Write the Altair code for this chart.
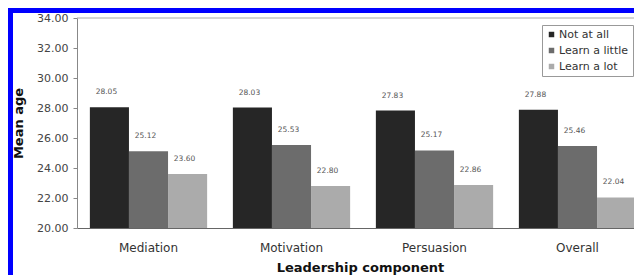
import altair as alt
import pandas as pd

categories = ["Mediation", "Motivation", "Persuasion", "Overall"]
series = ["Not at all", "Learn a little", "Learn a lot"]
not_at_all = [28.05, 28.03, 27.83, 27.88]
learn_little = [25.12, 25.53, 25.17, 25.46]
learn_lot = [23.60, 22.80, 22.86, 22.04]
y_ticks = [20, 22, 24, 26, 28, 30, 32, 34]
colors = ["#262626", "#6c6c6c", "#ababab"]

rows = []
for i, c in enumerate(categories):
    for s, vals in zip(series, [not_at_all, learn_little, learn_lot]):
        rows.append({"component": c, "level": s, "age": vals[i], "label": f"{vals[i]:.2f}"})
df = pd.DataFrame(rows)

W, H = 557, 210
PAD = {"left": 69, "top": 10, "right": 0, "bottom": 47}

x = alt.X(
    "component:N",
    sort=categories,
    scale=alt.Scale(range=[0, 572], paddingInner=0.18, paddingOuter=0.09),
    axis=alt.Axis(
        title="Leadership component",
        labelAngle=0,
        ticks=False,
        labelPadding=14,
        labelFontSize=12,
        labelColor="#333",
        domainColor="#666",
        titleFontSize=13,
        titleFontWeight="bold",
        titleColor="#111",
        titleX=283,
        titleY=39,
        titleBaseline="middle",
        titleAlign="center",
    ),
)
xo = alt.XOffset("level:N", sort=series, scale=alt.Scale(paddingInner=0, paddingOuter=0))
y = alt.Y(
    "age:Q",
    scale=alt.Scale(domain=[20, 34], nice=False, zero=False),
    axis=alt.Axis(
        title="Mean age",
        values=y_ticks,
        format=".2f",
        grid=False,
        tickSize=4,
        tickColor="#888",
        domainColor="#888",
        labelPadding=5,
        labelFontSize=11,
        labelColor="#444",
        titleFontSize=13,
        titleFontWeight="bold",
        titleColor="#111",
        titleAngle=-90,
        titleX=-59,
        titleY=105,
        titleAlign="center",
        titleBaseline="middle",
    ),
)
color = alt.Color(
    "level:N",
    sort=series,
    scale=alt.Scale(domain=series, range=colors),
    legend=alt.Legend(
        title=None,
        orient="none",
        legendX=465,
        legendY=7,
        symbolType="square",
        symbolSize=30,
        symbolStrokeWidth=0,
        strokeColor="#999",
        fillColor="white",
        padding=4,
        rowPadding=4,
        labelOffset=2,
        labelFontSize=11,
        labelColor="#333",
    ),
)

base = alt.Chart(df)
bars = base.mark_bar().encode(x=x, xOffset=xo, y=y, y2=alt.datum(20), color=color)
labels = base.mark_text(dy=-15, dx=-3, fontSize=7.5, color="#555", baseline="middle").encode(
    x=x, xOffset=xo, y=y, text="label:N"
)

frame_df = pd.DataFrame({"k": [0]})
top_border = alt.Chart(frame_df).mark_rule(color="#aaa", strokeWidth=1).encode(
    x=alt.value(0), x2=alt.value(W), y=alt.value(0)
)
left_bar = alt.Chart(frame_df).mark_rule(color="#0000ff", strokeWidth=5).encode(
    x=alt.value(-66.5), y=alt.value(-10), y2=alt.value(H + PAD["bottom"])
)
top_bar = alt.Chart(frame_df).mark_rule(color="#0000ff", strokeWidth=5).encode(
    x=alt.value(-69), x2=alt.value(W), y=alt.value(-7.5)
)

chart = (
    alt.layer(top_border, bars, labels, left_bar, top_bar)
    .properties(width=W, height=H, padding=PAD, autosize=alt.AutoSizeParams(type="none"), background="white")
    .configure(font="DejaVu Sans")
    .configure_view(stroke=None)
)

chart.save("out.html", embed_options={"renderer": "svg", "actions": False})
